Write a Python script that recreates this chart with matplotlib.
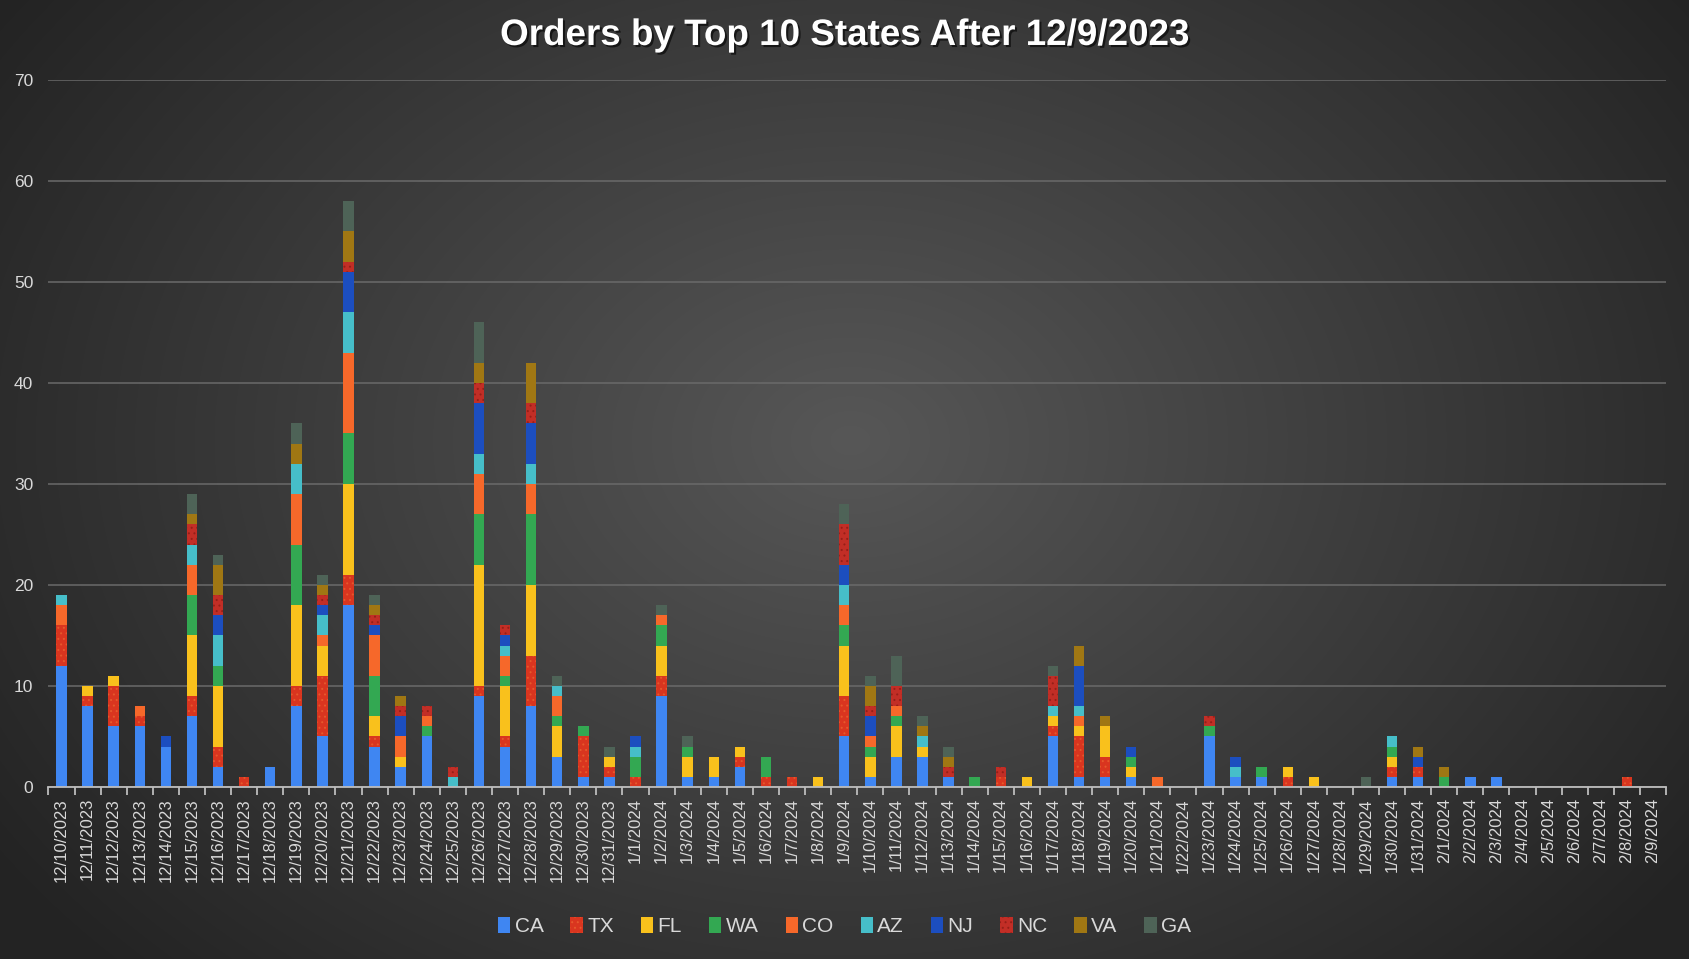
import numpy as np
import matplotlib
matplotlib.use("Agg")
import matplotlib.pyplot as plt
import matplotlib.patheffects as pe
from matplotlib.patches import Patch

plt.rcParams['font.family'] = ['Liberation Sans', 'DejaVu Sans']
plt.rcParams['hatch.linewidth'] = 0.7

dates = ["12/10/2023", "12/11/2023", "12/12/2023", "12/13/2023", "12/14/2023", "12/15/2023",
         "12/16/2023", "12/17/2023", "12/18/2023", "12/19/2023", "12/20/2023", "12/21/2023",
         "12/22/2023", "12/23/2023", "12/24/2023", "12/25/2023", "12/26/2023", "12/27/2023",
         "12/28/2023", "12/29/2023", "12/30/2023", "12/31/2023",
         "1/1/2024", "1/2/2024", "1/3/2024", "1/4/2024", "1/5/2024", "1/6/2024", "1/7/2024",
         "1/8/2024", "1/9/2024", "1/10/2024", "1/11/2024", "1/12/2024", "1/13/2024", "1/14/2024",
         "1/15/2024", "1/16/2024", "1/17/2024", "1/18/2024", "1/19/2024", "1/20/2024", "1/21/2024",
         "1/22/2024", "1/23/2024", "1/24/2024", "1/25/2024", "1/26/2024", "1/27/2024", "1/28/2024",
         "1/29/2024", "1/30/2024", "1/31/2024",
         "2/1/2024", "2/2/2024", "2/3/2024", "2/4/2024", "2/5/2024", "2/6/2024", "2/7/2024",
         "2/8/2024", "2/9/2024"]

states = ["CA", "TX", "FL", "WA", "CO", "AZ", "NJ", "NC", "VA", "GA"]

CA = [12, 8, 6, 6, 4, 7, 2, 0, 2, 8,  5, 18, 4, 2, 5, 0, 9, 4, 8, 3,
      1, 1, 0, 9, 1, 1, 2, 0, 0, 0,  5, 1, 3, 3, 1, 0, 0, 0, 5, 1,
      1, 1, 0, 0, 5, 1, 1, 0, 0, 0,  0, 1, 1, 0, 1, 1, 0, 0, 0, 0,  0, 0]
TX = [4, 1, 4, 1, 0, 2, 2, 1, 0, 2,  6, 3, 1, 0, 0, 0, 1, 1, 5, 0,
      4, 1, 1, 2, 0, 0, 1, 1, 1, 0,  4, 0, 0, 0, 0, 0, 1, 0, 1, 4,
      2, 0, 0, 0, 0, 0, 0, 1, 0, 0,  0, 1, 1, 0, 0, 0, 0, 0, 0, 0,  1, 0]
FL = [0, 1, 1, 0, 0, 6, 6, 0, 0, 8,  3, 9, 2, 1, 0, 0, 12, 5, 7, 3,
      0, 1, 0, 3, 2, 2, 1, 0, 0, 1,  5, 2, 3, 1, 0, 0, 0, 1, 1, 1,
      3, 1, 0, 0, 0, 0, 0, 1, 1, 0,  0, 1, 0, 0, 0, 0, 0, 0, 0, 0,  0, 0]
WA = [0, 0, 0, 0, 0, 4, 2, 0, 0, 6,  0, 5, 4, 0, 1, 0, 5, 1, 7, 1,
      1, 0, 2, 2, 1, 0, 0, 2, 0, 0,  2, 1, 1, 0, 0, 1, 0, 0, 0, 0,
      0, 1, 0, 0, 1, 0, 1, 0, 0, 0,  0, 1, 0, 1, 0, 0, 0, 0, 0, 0,  0, 0]
CO = [2, 0, 0, 1, 0, 3, 0, 0, 0, 5,  1, 8, 4, 2, 1, 0, 4, 2, 3, 2,
      0, 0, 0, 1, 0, 0, 0, 0, 0, 0,  2, 1, 1, 0, 0, 0, 0, 0, 0, 1,
      0, 0, 1, 0, 0, 0, 0, 0, 0, 0,  0, 0, 0, 0, 0, 0, 0, 0, 0, 0,  0, 0]
AZ = [1, 0, 0, 0, 0, 2, 3, 0, 0, 3,  2, 4, 0, 0, 0, 1, 2, 1, 2, 1,
      0, 0, 1, 0, 0, 0, 0, 0, 0, 0,  2, 0, 0, 1, 0, 0, 0, 0, 1, 1,
      0, 0, 0, 0, 0, 1, 0, 0, 0, 0,  0, 1, 0, 0, 0, 0, 0, 0, 0, 0,  0, 0]
NJ = [0, 0, 0, 0, 1, 0, 2, 0, 0, 0,  1, 4, 1, 2, 0, 0, 5, 1, 4, 0,
      0, 0, 1, 0, 0, 0, 0, 0, 0, 0,  2, 2, 0, 0, 0, 0, 0, 0, 0, 4,
      0, 1, 0, 0, 0, 1, 0, 0, 0, 0,  0, 0, 1, 0, 0, 0, 0, 0, 0, 0,  0, 0]
NC = [0, 0, 0, 0, 0, 2, 2, 0, 0, 0,  1, 1, 1, 1, 1, 1, 2, 1, 2, 0,
      0, 0, 0, 0, 0, 0, 0, 0, 0, 0,  4, 1, 2, 0, 1, 0, 1, 0, 3, 0,
      0, 0, 0, 0, 1, 0, 0, 0, 0, 0,  0, 0, 0, 0, 0, 0, 0, 0, 0, 0,  0, 0]
VA = [0, 0, 0, 0, 0, 1, 3, 0, 0, 2,  1, 3, 1, 1, 0, 0, 2, 0, 4, 0,
      0, 0, 0, 0, 0, 0, 0, 0, 0, 0,  0, 2, 0, 1, 1, 0, 0, 0, 0, 2,
      1, 0, 0, 0, 0, 0, 0, 0, 0, 0,  0, 0, 1, 1, 0, 0, 0, 0, 0, 0,  0, 0]
GA = [0, 0, 0, 0, 0, 2, 1, 0, 0, 2,  1, 3, 1, 0, 0, 0, 4, 0, 0, 1,
      0, 1, 0, 1, 1, 0, 0, 0, 0, 0,  2, 1, 3, 1, 1, 0, 0, 0, 1, 0,
      0, 0, 0, 0, 0, 0, 0, 0, 0, 0,  1, 0, 0, 0, 0, 0, 0, 0, 0, 0,  0, 0]

series = [CA, TX, FL, WA, CO, AZ, NJ, NC, VA, GA]
colors = ["#3F86F2", "#D9351F", "#F9C11C", "#33A852", "#F6682A",
          "#46BEC9", "#1C4EBF", "#C22E26", "#A07713", "#4E6357"]
hatches = {"TX": ("...", "#E5582C"), "NC": ("...", "#961F18")}

fig = plt.figure(figsize=(16.89, 9.59), dpi=100)

# radial background
bg = fig.add_axes([0, 0, 1, 1], zorder=-10)
yy, xx = np.mgrid[0:959, 0:1689]
r = np.sqrt(((xx - 850) / 1689.0) ** 2 + ((yy - 440) / 1250.0) ** 2)
r = np.clip(r / 0.6, 0, 1)
inner = np.array([0x57, 0x57, 0x57]) / 255.0
outer = np.array([0x24, 0x24, 0x24]) / 255.0
img = inner[None, None, :] * (1 - r[..., None]) + outer[None, None, :] * r[..., None]
bg.imshow(img, aspect='auto', extent=[0, 1, 0, 1], origin='upper')
bg.axis('off')

ax = fig.add_axes([0.0287, 0.1794, 0.9577, 0.7372])
ax.set_facecolor('none')

x = np.arange(len(dates))
bottom = np.zeros(len(dates))
for name, vals, col in zip(states, series, colors):
    vals = np.array(vals)
    if name in hatches:
        h, hc = hatches[name]
        ax.bar(x, vals, 0.4, bottom=bottom, color=col, hatch=h, edgecolor=hc,
               linewidth=0, zorder=3)
    else:
        ax.bar(x, vals, 0.4, bottom=bottom, color=col, linewidth=0, zorder=3)
    bottom += vals

ax.set_xlim(-0.5, len(dates) - 0.5)
ax.set_ylim(0, 70)
ax.set_yticks(range(0, 71, 10))
ax.grid(axis='y', color='#6a6a6a', linewidth=1.1, zorder=0)
ax.set_axisbelow(True)

for s in ['top', 'right', 'left']:
    ax.spines[s].set_visible(False)
ax.spines['bottom'].set_color('#bdbdbd')
ax.spines['bottom'].set_linewidth(1.3)
ax.spines['bottom'].set_zorder(4)

ax.set_xticks(x)
ax.set_xticklabels(dates, rotation=90, fontsize=12, color='#d9d9d9')
ax.set_xticks(np.arange(-0.5, len(dates), 1), minor=True)
ax.tick_params(axis='x', which='major', length=0, pad=8)
ax.tick_params(axis='x', which='minor', length=6, width=1.3, color='#bdbdbd')
ax.tick_params(axis='y', length=0, labelsize=12.5, labelcolor='#d9d9d9', pad=11)

fig.text(0.5, 0.963, "Orders by Top 10 States After 12/9/2023", ha='center', va='center',
         fontsize=26.5, fontweight='bold', color='white',
         path_effects=[pe.withSimplePatchShadow(offset=(1.5, -1.5), shadow_rgbFace='black', alpha=0.6)])

handles = []
for name, col in zip(states, colors):
    if name in hatches:
        handles.append(Patch(facecolor=col, hatch=hatches[name][0], edgecolor=hatches[name][1], linewidth=0))
    else:
        handles.append(Patch(facecolor=col, linewidth=0))
leg = fig.legend(handles, states, loc='center', bbox_to_anchor=(0.5, 0.034), ncol=10,
                 frameon=False, fontsize=15, handlelength=0.6, handleheight=0.8,
                 handletextpad=0.2, columnspacing=1.3)
for t in leg.get_texts():
    t.set_color('#d9d9d9')

fig.savefig("out.png", dpi=100)
